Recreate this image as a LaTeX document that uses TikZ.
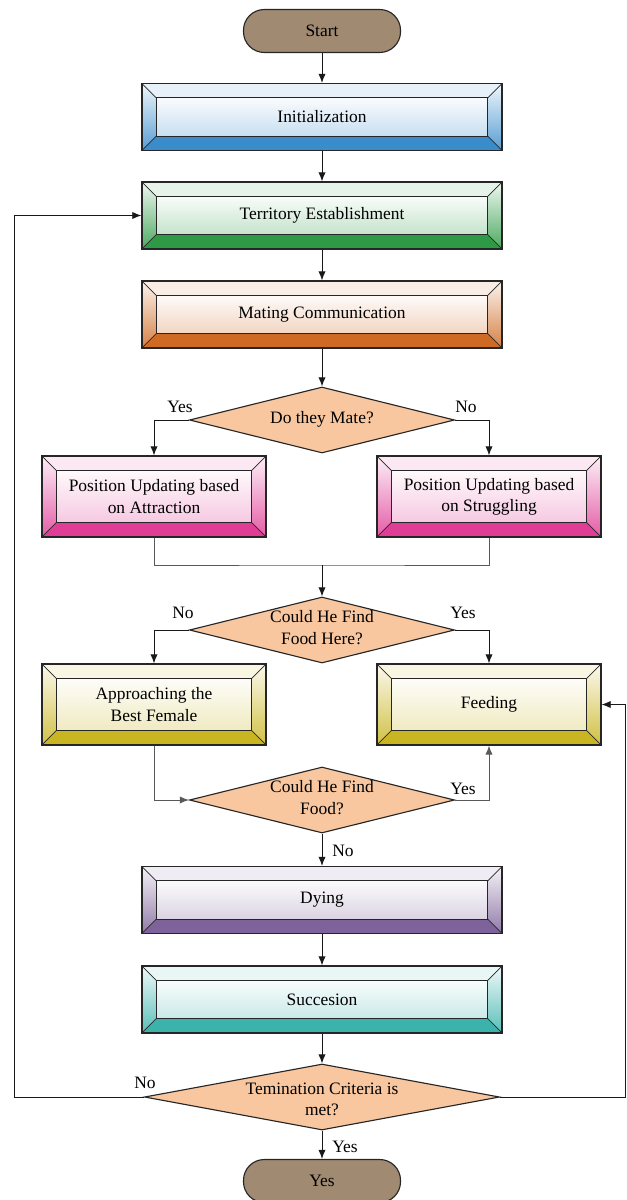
\documentclass[tikz,border=0pt]{standalone}
\usepackage{fontspec}
\setmainfont{Liberation Serif}
\usetikzlibrary{shapes.geometric,arrows.meta}
\definecolor{cblue}{HTML}{3A8CCB}
\definecolor{cgreen}{HTML}{2E9A46}
\definecolor{corange}{HTML}{CF6A24}
\definecolor{cpink}{HTML}{E03E96}
\definecolor{colive}{HTML}{C9B522}
\definecolor{cpurple}{HTML}{7D6399}
\definecolor{cteal}{HTML}{3BB3AC}
\definecolor{cterm}{HTML}{A08A72}
\definecolor{cdia}{HTML}{F8C7A0}
\def\bvd{0.36cm}
\newcommand\dtxt[2][-2.5pt]{\makebox[0pt]{\smash{\raisebox{#1}{\begin{tabular}{@{}c@{}}#2\end{tabular}}}}}
\tikzset{
  txt/.style={font=\fontsize{12.4}{15}\selectfont},
  bevel/.style={rectangle, draw=black!85, line width=0.8pt, minimum width=9cm,
    minimum height=1.675cm, inner sep=0pt, align=center, txt,
    path picture={
      \coordinate (bnw) at (path picture bounding box.north west);
      \coordinate (bne) at (path picture bounding box.north east);
      \coordinate (bsw) at (path picture bounding box.south west);
      \coordinate (bse) at (path picture bounding box.south east);
      \fill[#1!12] (bnw) -- (bne) -- ([xshift=-\bvd,yshift=-\bvd]bne) -- ([xshift=\bvd,yshift=-\bvd]bnw) -- cycle;
      \fill[#1] (bsw) -- (bse) -- ([xshift=-\bvd,yshift=\bvd]bse) -- ([xshift=\bvd,yshift=\bvd]bsw) -- cycle;
      \shade[top color=#1!8, bottom color=#1!85] (bnw) -- ([xshift=\bvd,yshift=-\bvd]bnw) -- ([xshift=\bvd,yshift=\bvd]bsw) -- (bsw) -- cycle;
      \shade[top color=#1!8, bottom color=#1!85] (bne) -- ([xshift=-\bvd,yshift=-\bvd]bne) -- ([xshift=-\bvd,yshift=\bvd]bse) -- (bse) -- cycle;
      \shade[top color=#1!3, bottom color=#1!28] ([xshift=\bvd,yshift=-\bvd]bnw) rectangle ([xshift=-\bvd,yshift=\bvd]bse);
      \draw[black!85, line width=0.8pt] ([xshift=\bvd,yshift=-\bvd]bnw) rectangle ([xshift=-\bvd,yshift=\bvd]bse);
      \draw[black!85, line width=0.5pt] (bnw) -- ([xshift=\bvd,yshift=-\bvd]bnw)
        (bne) -- ([xshift=-\bvd,yshift=-\bvd]bne)
        (bsw) -- ([xshift=\bvd,yshift=\bvd]bsw)
        (bse) -- ([xshift=-\bvd,yshift=\bvd]bse);
    }},
  sbox/.style={minimum width=5.6cm, minimum height=2.025cm},
  term/.style={rectangle, rounded corners=0.52cm, draw=black!85, line width=0.8pt,
    fill=cterm, minimum width=3.925cm, minimum height=1.075cm, txt},
  dia/.style={diamond, draw=black!85, line width=0.8pt, fill=cdia, inner sep=0pt,
    minimum width=6.625cm, minimum height=1.65cm, txt},
  lbl/.style={txt, inner sep=0pt},
  arr/.style={line width=0.7pt, draw=black!90, -{Latex[length=6.5pt,width=5.2pt]}},
  garr/.style={line width=0.7pt, draw=black!65, -{Latex[length=6.5pt,width=5.2pt]}},
  gline/.style={line width=0.7pt, draw=black!65},
}
\begin{document}
\begin{tikzpicture}[x=0.025cm, y=-0.025cm]
\useasboundingbox (0,0) rectangle (626,1200);
\node[term] (start) at (322,31) {Start};
\node[bevel=cblue] (init) at (322,117) {Initialization};
\node[bevel=cgreen] (terr) at (322,215.5) {Territory Establishment};
\node[bevel=corange] (mate) at (322,314.5) {Mating Communication};
\node[dia] (domate) at (322,420) {\dtxt{Do they Mate?}};
\node[bevel=cpink, sbox] (pa) at (154,496.5) {Position Updating based\\on Attraction};
\node[bevel=cpink, sbox] (ps) at (489,496.5) {Position Updating based\\on Struggling};
\coordinate (merge) at (322,565);
\node[dia] (food1) at (322,630) {\dtxt{Could He Find\\Food Here?}};
\node[bevel=colive, sbox] (appr) at (154,704.5) {Approaching the\\Best Female};
\node[bevel=colive, sbox] (feed) at (489,704.5) {Feeding};
\node[dia] (food2) at (322,800) {\dtxt{Could He Find\\Food?}};
\node[bevel=cpurple] (dying) at (322,900) {Dying};
\node[bevel=cteal] (succ) at (322,999.5) {Succesion};
\node[dia, minimum width=8.875cm] (crit) at (322,1097) {\dtxt[-6pt]{Temination Criteria is\\met?}};
\node[term] (stop) at (322,1181) {Yes};
\coordinate (lx) at (14,1097);
\coordinate (rx) at (625.5,1097);

\draw[arr] (start) -- (init);
\draw[arr] (init) -- (terr);
\draw[arr] (terr) -- (mate);
\draw[arr] (mate) -- (domate);
\draw[arr] (domate.west) -| (pa.north);
\draw[arr] (domate.east) -| (ps.north);
\draw[gline] (pa.south) |- (merge) -| (ps.south);
\draw[arr] (merge) -- (food1.north);
\draw[arr] (food1.west) -| (appr.north);
\draw[arr] (food1.east) -| (feed.north);
\draw[garr] (appr.south) |- (food2.west);
\draw[garr] (food2.east) -| (feed.south);
\draw[arr] (food2) -- (dying);
\draw[arr] (dying) -- (succ);
\draw[arr] (succ) -- (crit);
\draw[arr] (crit) -- (stop);
\draw[arr] (crit.west) -- (lx) |- (terr.west);
\draw[arr] (crit.east) -- (rx) |- (feed.east);

\node[lbl] (l1) at (180,407) {Yes};
\node[lbl] (l2) at (466,407) {No};
\node[lbl] (l3) at (183,613) {No};
\node[lbl] (l4) at (463,613) {Yes};
\node[lbl] (l5) at (463,789) {Yes};
\node[lbl] (l6) at (343,851) {No};
\node[lbl] (l7) at (145,1083) {No};
\node[lbl] (l8) at (345,1147) {Yes};
\end{tikzpicture}
\end{document}
